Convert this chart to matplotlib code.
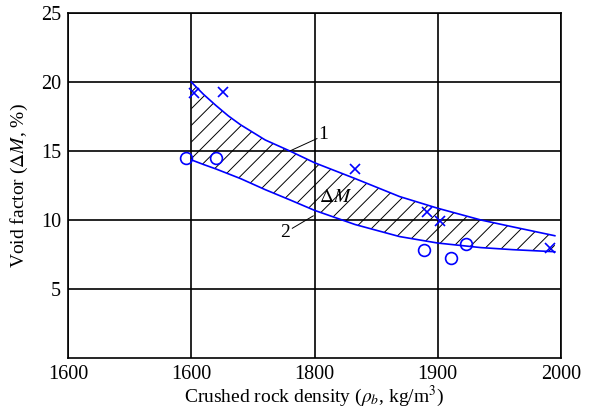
import matplotlib.pyplot as plt
import numpy as np

plt.rcParams['font.family'] = ['Liberation Serif', 'DejaVu Serif']
plt.rcParams['mathtext.fontset'] = 'stix'
plt.rcParams['hatch.linewidth'] = 0.7

# boundary curves of the void-factor band
dens = [1700, 1710, 1720, 1730, 1740, 1760, 1780, 1800, 1833, 1869, 1900, 1935, 1961, 1995]
curve1 = [20.0, 19.1, 18.3, 17.55, 16.9, 15.8, 15.0, 14.15, 13.0, 11.7, 10.85, 10.0, 9.5, 8.86]
curve2 = [14.36, 14.02, 13.7, 13.35, 13.0, 12.2, 11.46, 10.7, 9.67, 8.8, 8.33, 8.0, 7.85, 7.7]

# measured points
cross_x = [1702, 1726, 1833, 1891, 1902, 1991]
cross_y = [19.2, 19.3, 13.7, 10.56, 9.9, 8.0]
circ_x = [1696, 1720, 1889, 1911, 1923]
circ_y = [14.5, 14.46, 7.8, 7.27, 8.28]

xticks = [1600, 1700, 1800, 1900, 2000]
xtick_labels = ['1600', '1600', '1800', '1900', '2000']
yticks = [5, 10, 15, 20, 25]

fig = plt.figure(figsize=(5.93, 4.08), dpi=100)
ax = fig.add_axes([68/593, 1-358/408, (561-68)/593, (358-13)/408])

ax.fill_between(dens, curve2, curve1, facecolor='none', edgecolor='black',
                hatch='//', linewidth=0)
ax.plot(dens, curve1, color='#0000ff', lw=1.2)
ax.plot(dens, curve2, color='#0000ff', lw=1.2)
ax.plot(cross_x, cross_y, ls='', marker='x', ms=7.5, mew=1.2, color='#0000ff')
ax.plot(circ_x, circ_y, ls='', marker='o', ms=8.5, mew=1.2, mfc='none', mec='#0000ff')

# curve labels with leader lines
ax.plot([1780, 1802], [15.0, 15.9], color='black', lw=0.7)
ax.text(1803, 16.2, '1', fontsize=14, ha='left', va='center')
ax.plot([1782, 1799], [9.4, 10.3], color='black', lw=0.7)
ax.text(1780, 9.1, '2', fontsize=14, ha='right', va='center')
ax.text(1817, 11.6, r'$\Delta M$', fontsize=14, ha='center', va='center')

ax.set_xlim(1600, 2000)
ax.set_ylim(0, 25)
ax.set_xticks(xticks)
ax.set_xticklabels(xtick_labels)
ax.set_yticks(yticks)
ax.tick_params(length=0, labelsize=14.5, pad=5)
ax.grid(True, color='black', lw=1.2)
ax.set_axisbelow(True)
for s in ax.spines.values():
    s.set_linewidth(1.2)

ax.set_xlabel(r'Crushed rock density ($\rho_b$, kg/m$^3$)', fontsize=14, labelpad=0)
ax.set_ylabel(r'Void factor ($\Delta M$, %)', fontsize=14, labelpad=8)

plt.savefig('out.png', dpi=100)
